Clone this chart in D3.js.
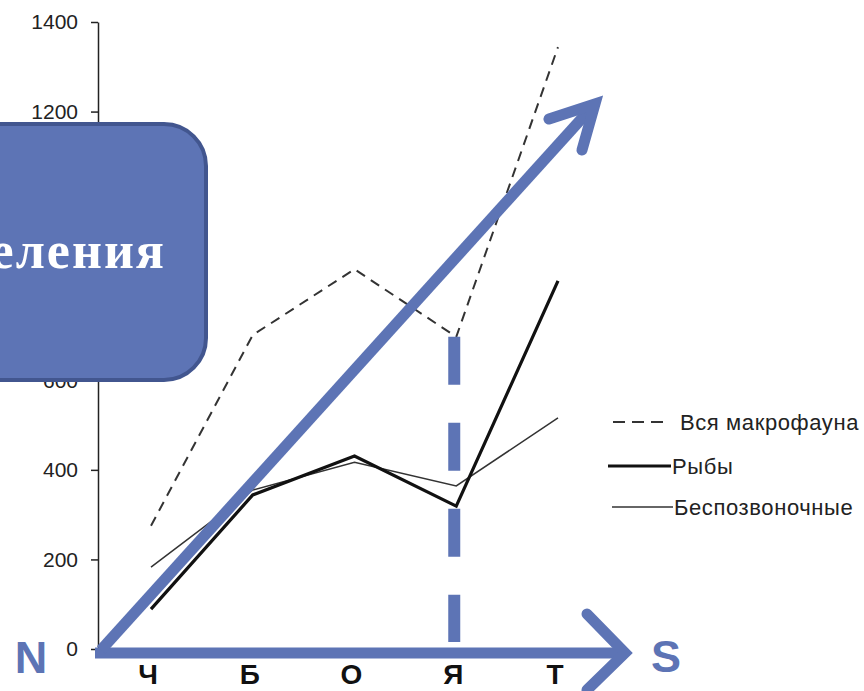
<!DOCTYPE html>
<html><head><meta charset="utf-8">
<script src="https://cdn.jsdelivr.net/npm/d3@7"></script>
<style>
html,body{margin:0;padding:0;background:#fff;}
svg{display:block;}
</style></head>
<body>
<svg id="chart" width="864" height="691"></svg>
<script>
const categories = ["Ч","Б","О","Я","Т"];
const macrofauna = [275, 701, 848, 697, 1344];
const fish = [89, 344, 431, 319, 822];
const invertebrates = [183, 355, 417, 364, 516];
const yTicks = [0, 200, 400, 600, 800, 1000, 1200, 1400];
const seriesNames = ["Вся макрофауна", "Рыбы", "Беспозвоночные"];
const boxText = "распределения";

const svg = d3.select("#chart");
const blue = "#5d74b5";

const x = d3.scalePoint().domain(categories).range([151, 558]);
const y = d3.scaleLinear().domain([0, 1400]).range([649, 22]);
const x0 = 98;

// Y axis
const yAxis = svg.append("g").attr("transform", `translate(${x0},0)`)
  .call(d3.axisLeft(y).tickValues(yTicks).tickFormat(d3.format("d"))
    .tickSize(7).tickPadding(13).tickSizeOuter(0));
yAxis.select(".domain").attr("stroke", "#222").attr("stroke-width", 1.5);
yAxis.selectAll(".tick line").attr("stroke", "#222").attr("stroke-width", 1.5);
yAxis.selectAll(".tick text").attr("font-family", "Liberation Sans, Arial, sans-serif")
  .attr("font-size", 21).attr("fill", "#222");

// X axis line (mostly hidden under arrow)
svg.append("line").attr("x1", x0).attr("x2", 610).attr("y1", y(0)).attr("y2", y(0))
  .attr("stroke", "#222").attr("stroke-width", 1.5);

// X tick labels
svg.append("g").selectAll("text").data(categories).join("text")
  .attr("x", d => x(d) - 3).attr("y", 684)
  .attr("text-anchor", "middle")
  .attr("font-family", "Liberation Sans, Arial, sans-serif")
  .attr("font-weight", "bold").attr("font-size", 28).attr("fill", "#111")
  .text(d => d);

const line = d3.line().x((d, i) => x(categories[i])).y(d => y(d));

svg.append("path").datum(macrofauna).attr("d", line).attr("fill", "none")
  .attr("stroke", "#333").attr("stroke-width", 2).attr("stroke-dasharray", "10,7");
svg.append("path").datum(invertebrates).attr("d", line).attr("fill", "none")
  .attr("stroke", "#333").attr("stroke-width", 1.5);
svg.append("path").datum(fish).attr("d", line).attr("fill", "none")
  .attr("stroke", "#111").attr("stroke-width", 3.2);

// Legend
const legY = [422, 466, 507];
const leg = svg.append("g");
leg.append("line").attr("x1", 613).attr("x2", 668).attr("y1", legY[0]).attr("y2", legY[0])
  .attr("stroke", "#333").attr("stroke-width", 1.8).attr("stroke-dasharray", "12,7");
leg.append("line").attr("x1", 608).attr("x2", 671).attr("y1", legY[1]).attr("y2", legY[1])
  .attr("stroke", "#111").attr("stroke-width", 3.2);
leg.append("line").attr("x1", 612).attr("x2", 673).attr("y1", legY[2]).attr("y2", legY[2])
  .attr("stroke", "#333").attr("stroke-width", 1.5);
leg.selectAll("text").data(seriesNames).join("text")
  .attr("x", (d, i) => [680, 672, 674][i]).attr("y", (d, i) => legY[i] + 8)
  .attr("font-family", "Liberation Sans, Arial, sans-serif").attr("font-size", 22)
  .attr("letter-spacing", 0.6)
  .attr("fill", "#222").text(d => d);

// Blue overlay arrows
const ov = svg.append("g").attr("stroke", blue).attr("fill", "none").attr("stroke-width", 11);
ov.append("line").attr("x1", x("Я") - 2).attr("x2", x("Я") - 2).attr("y1", y(macrofauna[3])).attr("y2", 642)
  .attr("stroke-width", 12).attr("stroke-dasharray", "48,38");
ov.append("line").attr("x1", 95).attr("x2", 624).attr("y1", 653).attr("y2", 653);
ov.append("path").attr("d", "M587,614 L625,653 L587,690")
  .attr("stroke-linecap", "round").attr("stroke-linejoin", "miter");
ov.append("line").attr("x1", 101).attr("y1", 650).attr("x2", 594).attr("y2", 105);
ov.append("path").attr("d", "M549,119 L595,104 L582,150")
  .attr("stroke-linecap", "round").attr("stroke-linejoin", "miter");

// N / S labels
svg.append("text").attr("x", 31).attr("y", 673).attr("text-anchor", "middle")
  .attr("font-family", "Liberation Sans, Arial, sans-serif").attr("font-weight", "bold")
  .attr("font-size", 45).attr("fill", blue).text("N");
svg.append("text").attr("x", 666).attr("y", 672).attr("text-anchor", "middle")
  .attr("font-family", "Liberation Sans, Arial, sans-serif").attr("font-weight", "bold")
  .attr("font-size", 45).attr("fill", blue).text("S");

// Rounded box
svg.append("rect").attr("x", -60).attr("y", 124).attr("width", 266).attr("height", 256)
  .attr("rx", 42).attr("ry", 42).attr("fill", blue).attr("stroke", "#42568f").attr("stroke-width", 4);
svg.append("text").attr("x", 166).attr("y", 268).attr("text-anchor", "end")
  .attr("font-family", "Liberation Serif, Times New Roman, serif").attr("font-weight", "bold")
  .attr("font-size", 52).attr("letter-spacing", 2).attr("fill", "#fff").text(boxText);
</script>
</body></html>
